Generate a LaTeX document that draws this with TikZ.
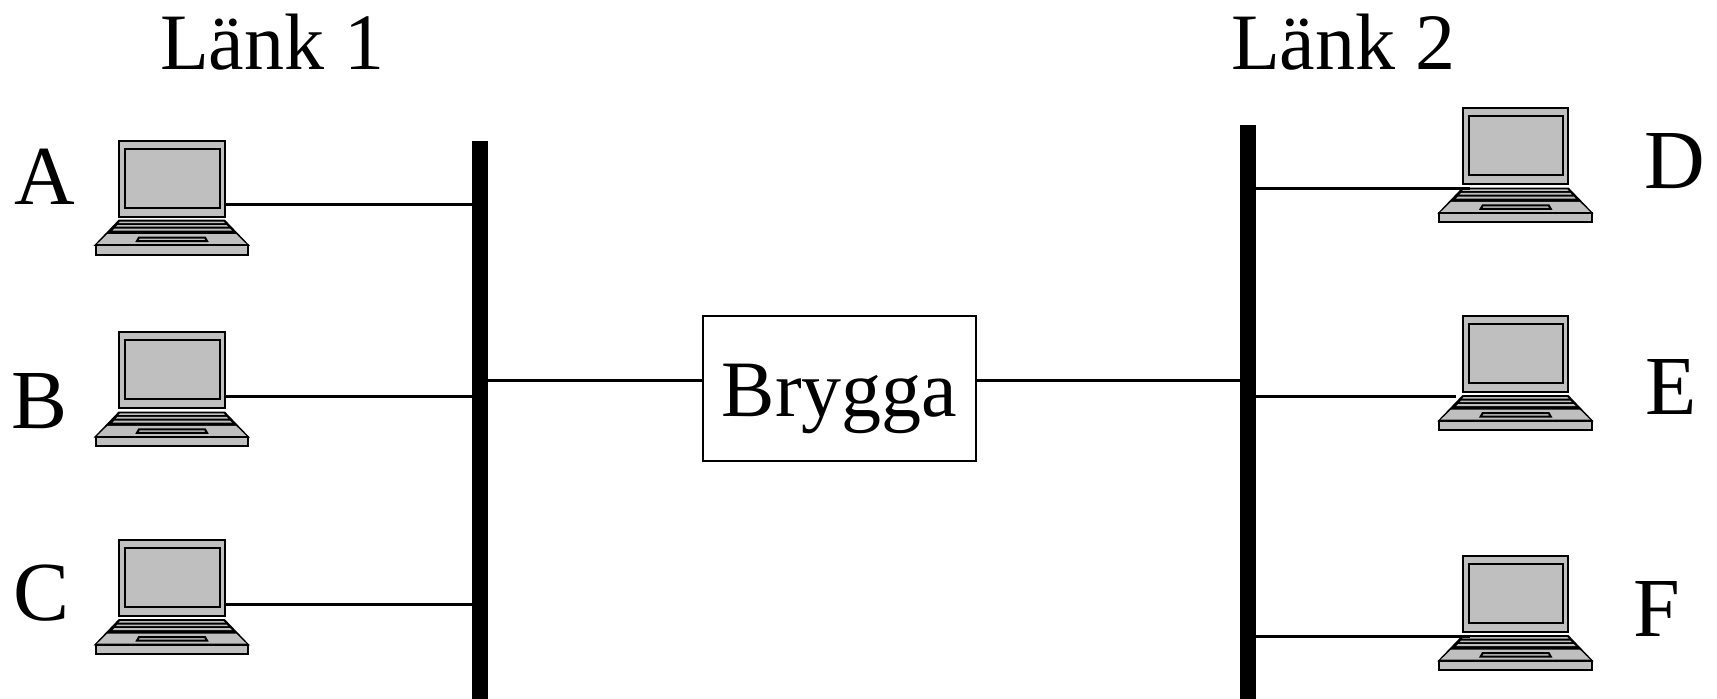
\documentclass[tikz,border=0pt]{standalone}
\usepackage{fontspec}
\setmainfont{Liberation Serif}
\definecolor{lapgray}{RGB}{191,191,191}
\tikzset{
  x=1pt,y=-1pt,
  wire/.style={line width=2.5pt,draw=black},
  busbar/.style={fill=black,draw=none,inner sep=0pt,outer sep=0pt,anchor=north west,minimum width=16pt},
  biglabel/.style={font=\fontsize{84}{84}\selectfont,inner sep=0pt,outer sep=0pt,anchor=base west},
  linktitle/.style={font=\fontsize{80}{80}\selectfont,inner sep=0pt,outer sep=0pt,anchor=base west},
  bridgebox/.style={draw=black,line width=2.4pt,fill=white,inner sep=0pt,outer sep=0pt,anchor=base,
    minimum width=272.7pt,text height=100pt,text depth=44.7pt,font=\fontsize{80}{80}\selectfont},
  lap/.style={draw=black,line width=2pt,fill=lapgray,line join=miter},
  laptop/.pic={
    \path[lap] (0,0) rectangle (105.5,76);
    \path[lap] (6,8) rectangle (100.5,67);
    \path[lap,fill=black,line width=1.6pt] (0,80) -- (105.5,80) -- (129,104.5) -- (-23.5,104.5) -- cycle;
    \path[fill=lapgray] (-22,103.7) -- (127.5,103.7) -- (117,93.5) -- (-11.5,93.5) -- cycle;
    \path[fill=lapgray] (1,81) -- (104.5,81) -- (106,82.6) -- (-0.5,82.6) -- cycle;
    \path[fill=lapgray] (-1.5,84.6) -- (107.5,84.6) -- (109,86.2) -- (-3,86.2) -- cycle;
    \path[fill=lapgray] (-4.5,88.2) -- (111,88.2) -- (113,90.2) -- (-6.5,90.2) -- cycle;
    \path[draw=black,line width=2pt,fill=lapgray] (20,97) -- (86,97) -- (88,100.5) -- (18,100.5) -- cycle;
    \path[lap] (-23.5,104.5) rectangle (129,114);
  }
}
\begin{document}
\begin{tikzpicture}
\useasboundingbox[fill=white] (0,0) rectangle (1717,699);
\node[busbar,minimum height=558.3pt] (busa) at (471.7,140.7) {};
\node[busbar,minimum height=574.3pt] (busb) at (1239.7,124.7) {};
\node[bridgebox] (bridge) at (839.6,416) {Brygga};
\node[linktitle] (lnka) at (160,69) {Länk 1};
\node[linktitle] (lnkb) at (1231,69) {Länk 2};
\node[biglabel] (la) at (15,204) {A};
\node[biglabel] (lb) at (12,428) {B};
\node[biglabel] (lc) at (13,620) {C};
\node[biglabel] (ld) at (1644,188) {D};
\node[biglabel] (le) at (1645,414) {E};
\node[biglabel] (lf) at (1633,636.7) {F};
\coordinate (pa) at (224.5,204.3);
\coordinate (pb) at (224.5,396.3);
\coordinate (pc) at (224.5,604.3);
\coordinate (pd) at (1470,188.3);
\coordinate (pe) at (1455.7,396.3);
\coordinate (pf) at (1470,636.3);
\coordinate (bl) at (703.3,380.3);
\coordinate (br) at (976,380.3);
\pic at (119,140.5) {laptop};
\pic at (119,332.3) {laptop};
\pic at (119,540) {laptop};
\pic at (1462.7,108.3) {laptop};
\pic at (1462.7,316) {laptop};
\pic at (1462.7,556) {laptop};
\draw[wire] (pa) -- (pa -| busa.west);
\draw[wire] (pb) -- (pb -| busa.west);
\draw[wire] (pc) -- (pc -| busa.west);
\draw[wire] (pd) -- (pd -| busb.east);
\draw[wire] (pe) -- (pe -| busb.east);
\draw[wire] (pf) -- (pf -| busb.east);
\draw[wire] (bl) -- (bl -| busa.east);
\draw[wire] (br) -- (br -| busb.west);
\end{tikzpicture}
\end{document}
